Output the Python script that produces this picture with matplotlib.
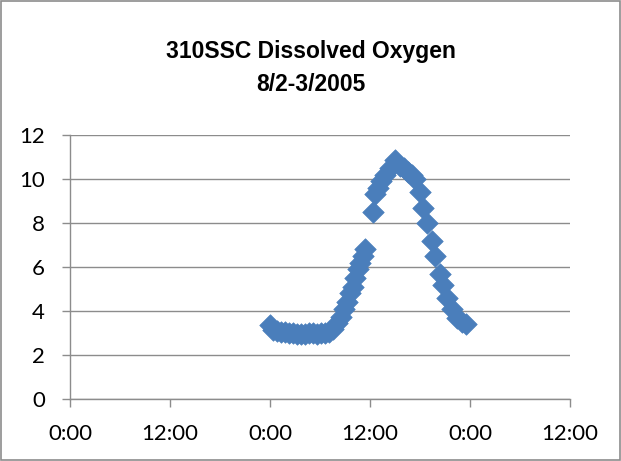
import matplotlib
matplotlib.use("Agg")
import matplotlib.pyplot as plt
from matplotlib.patches import Rectangle

plt.rcParams["font.family"] = ["Lato", "DejaVu Sans"]

# hours after midnight 8/3 (day 2)
hours = [0.0, 0.4, 0.8, 1.3, 1.8, 2.3, 2.8, 3.2, 3.7, 4.2, 4.7, 5.2, 5.6, 6.1,
         6.6, 7.1, 7.6, 8.0, 8.5, 8.9, 9.2, 9.6, 10.0, 10.2, 10.6, 10.8, 11.2,
         11.4, 12.3, 12.6, 13.0, 13.3, 13.8, 14.4, 15.0, 15.6, 16.1, 16.5,
         17.0, 17.4, 18.0, 18.4, 18.8, 19.4, 19.8, 20.4, 20.8, 21.2, 21.8,
         22.4, 23.0, 23.5]
do_mgl = [3.35, 3.15, 3.1, 3.05, 3.05, 3.0, 3.0, 2.95, 2.95, 2.95, 3.0, 3.0,
          2.95, 3.0, 3.0, 3.05, 3.2, 3.45, 3.75, 4.1, 4.4, 4.8, 5.1, 5.5, 5.9,
          6.2, 6.5, 6.8, 8.5, 9.3, 9.6, 9.9, 10.2, 10.5, 10.85, 10.6, 10.5,
          10.3, 10.2, 10.0, 9.4, 8.7, 8.0, 7.2, 6.5, 5.7, 5.2, 4.6, 4.1, 3.7,
          3.5, 3.4]

xticks = [-24, -12, 0, 12, 24, 36]
xlabels = ["0:00", "12:00", "0:00", "12:00", "0:00", "12:00"]

fig = plt.figure(figsize=(6.21, 4.61), dpi=100)
ax = fig.add_axes([70 / 621, 62 / 461, 500 / 621, 264 / 461])

ax.scatter(hours, do_mgl, marker="D", s=120, color="#4a7ebb",
           edgecolor="#4a7ebb", linewidth=0.5, zorder=3)

ax.set_xlim(-24, 36)
ax.set_ylim(0, 12)
ax.set_xticks(xticks)
ax.set_xticklabels(xlabels)
ax.set_yticks(range(0, 13, 2))
ax.grid(axis="y", color="#8c8c8c", lw=1.0)
ax.set_axisbelow(True)

for s in ["top", "right"]:
    ax.spines[s].set_visible(False)
for s in ["left", "bottom"]:
    ax.spines[s].set_color("#8c8c8c")
    ax.spines[s].set_linewidth(1.0)
ax.tick_params(direction="out", length=6, color="#8c8c8c", width=1.0,
               labelsize=16)
ax.tick_params(axis="x", pad=12)
ax.tick_params(axis="y", pad=12)

fig.text(0.5, 0.853, "310SSC Dissolved Oxygen\n8/2-3/2005", ha="center",
         va="center", fontsize=16.5, fontweight="bold", linespacing=1.55,
         family="Liberation Sans")

fig.patches.append(Rectangle((0.002, 0.002), 0.996, 0.995, transform=fig.transFigure,
                             fill=False, edgecolor="#8c8c8c", lw=1.2))

fig.savefig("out.png", dpi=100)
